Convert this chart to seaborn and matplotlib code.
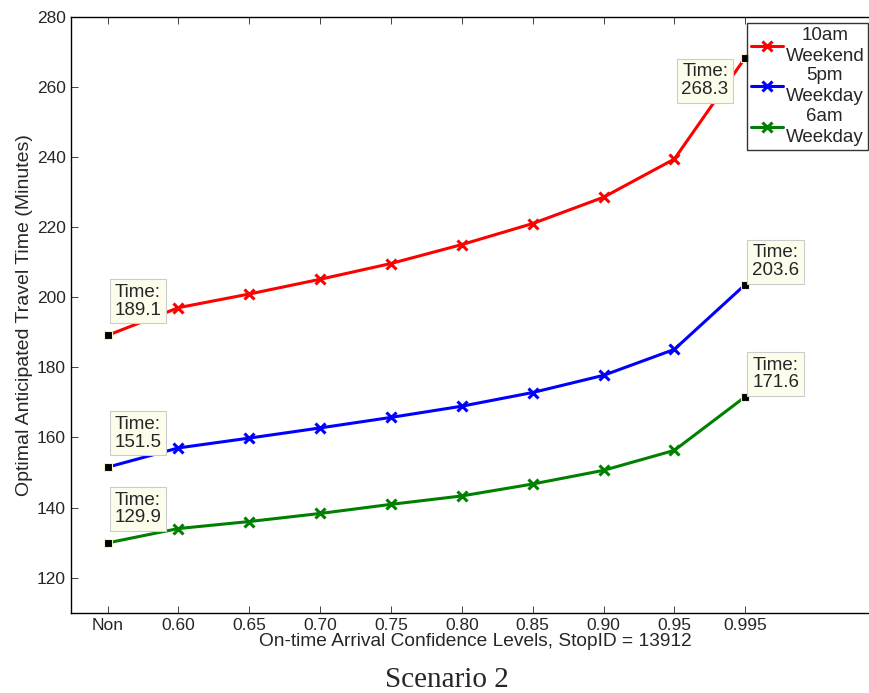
import matplotlib
matplotlib.use("Agg")
import matplotlib.pyplot as plt
import seaborn as sns
import pandas as pd

# values
levels = ["Non", "0.60", "0.65", "0.70", "0.75", "0.80", "0.85", "0.90", "0.95", "0.995"]
weekend_10am = [189.1, 197.0, 200.9, 205.1, 209.6, 215.0, 221.0, 228.5, 239.4, 268.3]
weekday_5pm = [151.5, 157.0, 159.8, 162.7, 165.7, 168.9, 172.8, 177.7, 185.1, 203.6]
weekday_6am = [129.9, 134.0, 136.0, 138.3, 140.9, 143.3, 146.7, 150.6, 156.3, 171.6]
series_names = ["10am\nWeekend", "5pm\nWeekday", "6am\nWeekday"]
colors = ["#ff0000", "#0000ff", "#008000"]


def build_frame():
    rows = []
    for name, vals in zip(series_names, [weekend_10am, weekday_5pm, weekday_6am]):
        for i, v in enumerate(vals):
            rows.append({"pos": i + 1, "time": v, "series": name})
    return pd.DataFrame(rows)


def main():
    sns.set_style("ticks")
    plt.rcParams["font.family"] = ["Liberation Sans", "DejaVu Sans"]

    data = build_frame()

    fig = plt.figure(figsize=(8.7, 6.93), dpi=100)
    ax = fig.add_axes([0.0813, 0.1159, 0.93, 0.86])

    sns.lineplot(data=data, x="pos", y="time", hue="series", palette=colors,
                 hue_order=series_names, marker="x", markersize=7,
                 markeredgewidth=2.2, linewidth=2.2, ax=ax)
    handles, labels = ax.get_legend_handles_labels()
    ax.get_legend().remove()

    # seaborn paints marker edges white; x markers need the line colour
    n = len(levels)
    for line in ax.lines:
        line.set_markeredgecolor(line.get_color())
        if len(line.get_xdata()) == n:
            # ends are covered by the data tip squares
            line.set_markevery(list(range(1, n - 1)))
    for h in handles:
        h.set_markeredgecolor(h.get_color())

    # data tips at first and last point of each series
    tips = [
        (weekend_10am, [(5, 12, "left", "bottom"), (-12, -4, "right", "top")]),
        (weekday_5pm, [(5, 12, "left", "bottom"), (5, 4, "left", "bottom")]),
        (weekday_6am, [(5, 12, "left", "bottom"), (5, 4, "left", "bottom")]),
    ]
    for vals, offs in tips:
        for idx, (dx, dy, ha, va) in zip([0, len(vals) - 1], offs):
            x = idx + 1
            ax.plot([x], [vals[idx]], marker="s", color="black", markersize=5.5,
                    markeredgecolor="#f5f0c8", markeredgewidth=0.8, zorder=5)
            ax.annotate("Time:\n%.1f" % vals[idx], xy=(x, vals[idx]),
                        xytext=(dx, dy), textcoords="offset points",
                        ha=ha, va=va, fontsize=13.5, linespacing=1.05,
                        bbox=dict(boxstyle="square,pad=0.25", fc="#fdfdec",
                                  ec="#cccccc", lw=0.8), zorder=6)

    ax.set_xlim(0.48, 11.9)
    ax.set_ylim(110, 280)
    ax.set_xticks(range(1, n + 1))
    ax.set_xticklabels(levels)
    ax.set_yticks(range(120, 281, 20))
    ax.tick_params(direction="in", top=True, labelsize=12.5, length=5, width=0.6)
    for side in ["left", "bottom", "top"]:
        ax.spines[side].set_color("black")
        ax.spines[side].set_linewidth(1.0)
    ax.spines["right"].set_visible(False)

    ax.set_xlabel("On-time Arrival Confidence Levels, StopID = 13912", fontsize=13.8, labelpad=0)
    ax.set_ylabel("Optimal Anticipated Travel Time (Minutes)", fontsize=14, labelpad=3)

    leg = fig.legend(handles, labels, loc="upper right",
                     bbox_to_anchor=(868 / 870, 1 - 23 / 693),
                     fontsize=13.5, frameon=True, fancybox=False, edgecolor="black",
                     handlelength=1.7, handletextpad=0.15, borderpad=0.2,
                     labelspacing=0.15, borderaxespad=0)
    leg.get_frame().set_linewidth(1.0)
    for t in leg.get_texts():
        t.set_multialignment("center")
        t.set_linespacing(1.3)

    fig.text(0.514, 0.0, "Scenario 2", ha="center", va="bottom",
             fontsize=21, family=["Liberation Serif", "DejaVu Serif"])

    fig.savefig("out.png", dpi=100)


if __name__ == "__main__":
    main()
